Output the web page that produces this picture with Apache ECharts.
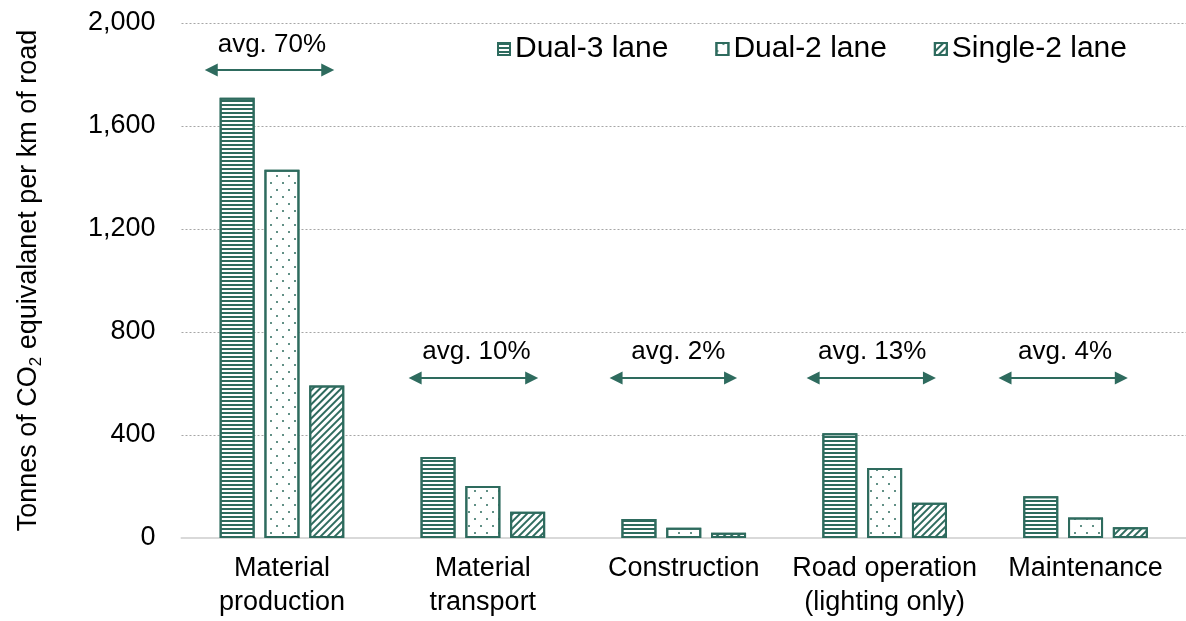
<!DOCTYPE html>
<html>
<head>
<meta charset="utf-8">
<title>CO2 per km of road</title>
<script src="https://cdn.jsdelivr.net/npm/echarts@6/dist/echarts.min.js"></script>
<style>
  html, body { margin: 0; padding: 0; background: #fff; }
  #main { width: 1186px; height: 621px; }
</style>
</head>
<body>
<div id="main"></div>
<script>
// 数据
var categories = ['Material\nproduction', 'Material\ntransport', 'Construction', 'Road operation\n(lighting only)', 'Maintenance'];
var dual3 = [1710, 315, 74, 407, 162];
var dual2 = [1430, 202, 40, 272, 80];
var single2 = [592, 102, 20, 137, 42];
var seriesNames = ['Dual-3 lane', 'Dual-2 lane', 'Single-2 lane'];

// avg. 标注 (x in category units 0..5, y in tonnes)
var avgLabels = ['avg. 70%', 'avg. 10%', 'avg. 2%', 'avg. 13%', 'avg. 4%'];
var arrowFrom = [0.148, 1.163, 2.163, 3.144, 4.099];
var arrowTo = [0.728, 1.743, 2.733, 3.723, 4.678];
var arrowY = [1817, 621, 621, 621, 621];
var labelX = [0.45, 1.468, 2.473, 3.438, 4.398];
var labelY = [1915, 722, 722, 722, 722];

var green = '#2e6b5e';
var font = '"Liberation Sans", Arial, sans-serif';

var decals = [
    { symbol: 'rect', symbolSize: 1, color: green, dashArrayX: [1, 0], dashArrayY: [2, 2], rotation: 0 },
    { symbol: 'circle', symbolSize: 1, color: green, dashArrayX: [[2, 10], [0, 6, 2, 4]], dashArrayY: [2, 5], rotation: 0 },
    { symbol: 'rect', symbolSize: 1, color: green, dashArrayX: [1, 0], dashArrayY: [2, 3], rotation: -Math.PI / 4 }
];

function barSeries(name, data, i) {
    return {
        name: name,
        type: 'bar',
        data: data,
        barWidth: 35,
        barGap: '28%',
        itemStyle: {
            color: '#fff',
            borderColor: green,
            borderWidth: 2,
            decal: decals[i]
        }
    };
}

var arrowData = [];
var textData = [];
for (var i = 0; i < avgLabels.length; i++) {
    arrowData.push({ coords: [[arrowFrom[i], arrowY[i]], [arrowTo[i], arrowY[i]]] });
    textData.push({ name: avgLabels[i], value: [labelX[i], labelY[i]] });
}

var myChart = echarts.init(document.getElementById('main'));
var option = {
    animation: false,
    textStyle: { fontFamily: font },
    grid: { left: 181.5, right: -5.5, top: 23, bottom: 83 },
    legend: {
        data: seriesNames,
        icon: 'rect',
        top: 29,
        left: 492,
        itemWidth: 12,
        itemHeight: 12,
        itemGap: 47,
        textStyle: { fontSize: 30, color: '#000', fontFamily: font }
    },
    xAxis: [{
        type: 'category',
        data: categories,
        axisLine: { show: true, lineStyle: { color: '#d9d9d9', width: 2 } },
        axisTick: { show: false },
        axisLabel: { fontSize: 27, color: '#000', lineHeight: 34, margin: 14, interval: 0 }
    }, {
        type: 'value',
        min: 0,
        max: 5,
        show: false
    }],
    yAxis: {
        type: 'value',
        min: 0,
        max: 2000,
        interval: 400,
        name: 'Tonnes of CO{sub|2} equivalanet per km of road',
        nameLocation: 'middle',
        nameGap: 137,
        nameTextStyle: {
            fontSize: 27,
            color: '#000',
            rich: { sub: { fontSize: 17, color: '#000', verticalAlign: 'bottom', padding: [14, 0, 0, 0] } }
        },
        axisLine: { show: false },
        axisTick: { show: false },
        axisLabel: {
            fontSize: 27,
            color: '#000',
            margin: 26,
            formatter: function (v) { return v.toLocaleString('en-US'); }
        },
        splitLine: { lineStyle: { color: '#a6a6a6', type: [2, 2], width: 1 } }
    },
    series: [
        barSeries(seriesNames[0], dual3, 0),
        barSeries(seriesNames[1], dual2, 1),
        barSeries(seriesNames[2], single2, 2),
        {
            type: 'lines',
            coordinateSystem: 'cartesian2d',
            xAxisIndex: 1,
            yAxisIndex: 0,
            symbol: ['triangle', 'triangle'],
            symbolSize: [13, 13],
            lineStyle: { color: green, width: 2, opacity: 1 },
            data: arrowData,
            silent: true
        },
        {
            type: 'scatter',
            xAxisIndex: 1,
            yAxisIndex: 0,
            symbolSize: 0,
            data: textData,
            silent: true,
            itemStyle: { opacity: 1 },
            label: {
                show: true,
                position: 'inside',
                formatter: '{b}',
                fontSize: 26,
                color: '#000',
                opacity: 1,
                textBorderWidth: 0,
                textBorderColor: 'transparent'
            }
        }
    ]
};
myChart.setOption(option);
window.onresize = function () {
    myChart.resize();
};
</script>
</body>
</html>
